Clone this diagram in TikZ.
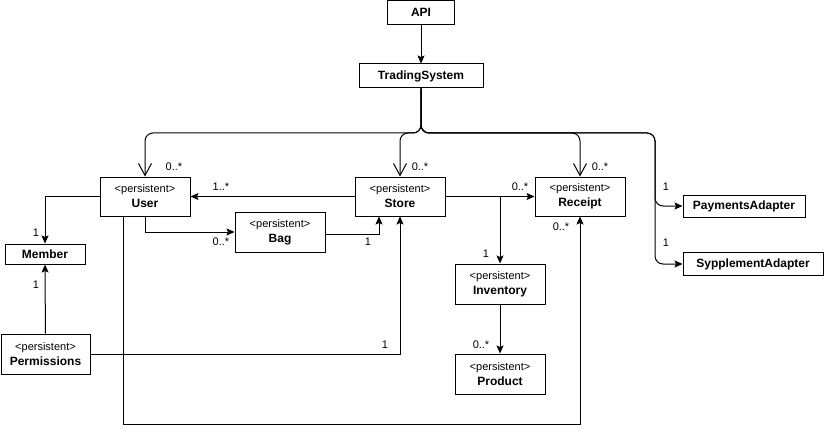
\documentclass[tikz,border=0pt]{standalone}
\usepackage{fontspec}
\setmainfont{Liberation Sans}
\usetikzlibrary{arrows.meta,calc}
\newcommand\persist{{\mdseries\fontsize{11}{15}\selectfont <persistent>}}
\begin{document}
\begin{tikzpicture}[x=1pt,y=-1pt,
  box/.style={draw, line width=1pt, inner sep=0pt, align=center, font=\fontsize{12}{15}\selectfont\bfseries},
  cls/.style={box, minimum width=90pt, minimum height=39pt},
  flat/.style={box, minimum height=24pt},
  lbl/.style={inner sep=0pt, font=\fontsize{11}{13}\selectfont},
  conn/.style={line width=1pt},
  fa/.style={conn, -{Stealth[length=8pt,width=7pt,inset=1.5pt]}},
  oa/.style={conn, rounded corners=8pt, -{Straight Barb[length=12pt,width=13pt]}}
]
\useasboundingbox (0,0) rectangle (824,433);

% nodes
\node[flat, minimum width=67pt] (api) at (421,12.5) {API};
\node[flat, minimum width=124pt] (ts) at (421,76) {TradingSystem};
\node[cls] (user) at (145,196.5) {\persist\\User};
\node[cls] (store) at (400,196.5) {\persist\\Store};
\node[cls] (receipt) at (580,196.5) {\persist\\Receipt};
\node[cls, minimum height=40pt] (bag) at (280,232) {\persist\\Bag};
\node[box, minimum width=80pt, minimum height=20pt] (member) at (45,254) {Member};
\node[cls, minimum width=89pt, minimum height=40pt] (perm) at (45.5,354) {\persist\\Permissions};
\node[cls, minimum height=40pt] (inv) at (500,284) {\persist\\Inventory};
\node[cls, minimum height=40pt] (prod) at (500,374) {\persist\\Product};
\node[box, minimum width=122pt, minimum height=22pt] (pay) at (744,206) {PaymentsAdapter};
\node[box, minimum width=140pt, minimum height=23pt] (sup) at (753,264) {SypplementAdapter};

% helper coordinates
\coordinate (bus) at (421,133);
\coordinate (side) at (655,133);
\coordinate (br) at (store.east -| inv.north);
\coordinate (low) at (123,424);

% connectors
\draw[fa] (api) -- (ts);
\draw[oa] (ts.south) -- (bus) -- (user.north |- bus) -- (user.north);
\draw[oa] (ts.south) -- (bus) -- (store.north |- bus) -- (store.north);
\draw[oa] (ts.south) -- (bus) -- (receipt.north |- bus) -- (receipt.north);
\draw[fa, rounded corners=8pt] (ts.south) -- (bus) -- (side) -- (side |- pay.west) -- (pay.west);
\draw[fa, rounded corners=8pt] (ts.south) -- (bus) -- (side) -- (side |- sup.west) -- (sup.west);

\draw[fa] (store.west) -- (user.east);
\draw[fa] (user.west) -| (member.north);
\draw[fa] (user.south) |- (bag.west);
\draw[fa] ($(bag.east)+(0,2)$) -| ($(store.south)+(-21,0)$);
\draw[fa] (store.east) -- (receipt.west);
\draw[fa] (br) -- (inv.north);
\draw[fa] (inv) -- (prod);
\draw[fa] (perm) -- (member);
\draw[fa] (perm.east) -| (store.south);
\draw[fa] (user.south -| low) -- (low) -| (receipt.south);

% labels
\node[lbl] (m1) at (174,167) {0..*};
\node[lbl] (m2) at (420,167) {0..*};
\node[lbl] (m3) at (600,167) {0..*};
\node[lbl] (m4) at (221,187) {1..*};
\node[lbl] (m5) at (520,187) {0..*};
\node[lbl] (m6) at (36,233) {1};
\node[lbl] (m7) at (221,242) {0..*};
\node[lbl] (m8) at (368,242) {1};
\node[lbl] (m9) at (561,227) {0..*};
\node[lbl] (m10) at (486,254) {1};
\node[lbl] (m11) at (481,345) {0..*};
\node[lbl] (m12) at (36,285) {1};
\node[lbl] (m13) at (385,345) {1};
\node[lbl] (m14) at (666,187) {1};
\node[lbl] (m15) at (666,243) {1};
\end{tikzpicture}
\end{document}
